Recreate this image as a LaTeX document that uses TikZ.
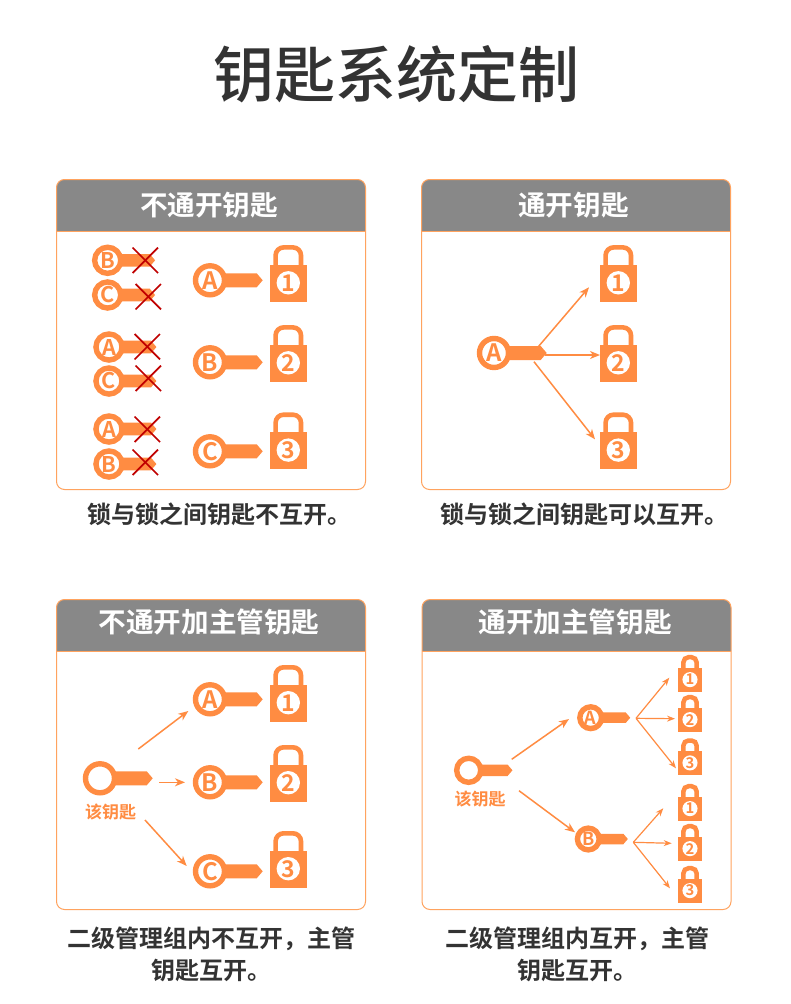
\documentclass[tikz,border=0pt]{standalone}
\usepackage{xcolor}
\usepackage{fontspec}
\setmainfont{Noto Sans CJK SC}[BoldFont={Noto Sans CJK SC Bold}]
\newfontfamily\mediumfont{Noto Sans CJK SC Medium}
\usetikzlibrary{positioning,calc,arrows.meta}
\definecolor{keyorange}{HTML}{FF8C42}
\definecolor{edgeorange}{HTML}{FFA35F}
\definecolor{headgray}{HTML}{888888}
\definecolor{textgray}{HTML}{333333}
\definecolor{crossred}{HTML}{C00000}

\begin{document}
\begin{tikzpicture}[x=1pt, y=-1pt,
    titletext/.style={font=\fontsize{61}{61}\selectfont\mediumfont, text=textgray, inner sep=0pt},
    headtext/.style={font=\fontsize{27.6}{28}\selectfont\bfseries, text=white, inner sep=0pt},
    captext/.style={font=\fontsize{24}{32}\selectfont\bfseries, text=textgray, inner sep=0pt, align=center},
    keytext/.style={font=\fontsize{17}{17}\selectfont\bfseries, text=keyorange, inner sep=0pt},
    ring/.style={circle, draw=keyorange, fill=white, line width=5.4pt, minimum size=29pt, inner sep=0pt, text=keyorange, font=\fontsize{24}{24}\selectfont\bfseries},
    dial/.style={circle, fill=white, minimum size=23.4pt, inner sep=0pt, text=keyorange, font=\fontsize{23}{23}\selectfont\bfseries},
    link/.style={-{Stealth[length=10pt, width=8pt, inset=3pt]}, keyorange, line width=1.5pt},
    thinlink/.style={-{Stealth[length=8pt, width=6pt, inset=2.5pt]}, keyorange, line width=1.2pt},
    cross/.style={crossred, line width=1.7pt},
    keypic/.pic={
        \fill[keyorange] (0,-7) -- (46.7,-7) -- (52.7,0) -- (46.7,7) -- (0,7) -- cycle;
        \node[ring] (-ring) at (0,0) {#1};
    },
    lockpic/.pic={
        \draw[keyorange, line width=4.6pt, rounded corners=8pt] (-12.7,-15) -- (-12.7,-36) -- (12.7,-36) -- (12.7,-15);
        \fill[keyorange] (-18.4,-18.4) rectangle (18.4,18.4);
        \node[dial] (-dial) at (0,-0.6) {#1};
    },
    smalllockpic/.pic={
        \draw[keyorange, line width=4.5pt, rounded corners=5pt] (-10.2,-15) -- (-10.2,-35.3) -- (10.2,-35.3) -- (10.2,-15);
        \fill[keyorange] (-18.4,-18.4) rectangle (18.4,18.4);
        \node[dial] (-dial) at (0,-0.6) {#1};
    },
    nopepic/.pic={
        \coordinate (-a) at (-12.7,-12.7);
        \coordinate (-b) at (12.7,12.7);
        \coordinate (-c) at (12.7,-12.7);
        \coordinate (-d) at (-12.7,12.7);
        \draw[cross] (-a) -- (-b);
        \draw[cross] (-c) -- (-d);
    },
    panelpic/.pic={
        \fill[white] (0,0) rectangle (309,310);
        \path[fill=headgray] (0,52) [rounded corners=8pt] -- (0,0) -- (309,0) [sharp corners] -- (309,52) -- cycle;
        \draw[edgeorange, line width=1pt] (0,52) -- (309,52);
        \draw[edgeorange, line width=1pt, rounded corners=8pt] (0,0) rectangle (309,310);
    }
]
\useasboundingbox (0,0) rectangle (790,1004);
\fill[white] (0,0) rectangle (790,1004);

% Title
\node[titletext] (title) at (396.5,74) {钥匙系统定制};

% Panels
\pic (nokey) at (56.5,179.5) {panelpic};
\pic (allkey) at (421.5,179.5) {panelpic};
\pic (nomaster) at (56.5,599.5) {panelpic};
\pic (allmaster) at (422,599.5) {panelpic};
\node[headtext] (nokeyhead) at (209,205.5) {不通开钥匙};
\node[headtext] (allkeyhead) at (573.5,205.5) {通开钥匙};
\node[headtext] (nomasterhead) at (209,622) {不通开加主管钥匙};
\node[headtext] (allmasterhead) at (575,622) {通开加主管钥匙};

% Captions
\node[captext] (nokeycap) at (219,514) {锁与锁之间钥匙不互开。};
\node[captext] (allkeycap) at (584.5,514) {锁与锁之间钥匙可以互开。};
\node[captext] (nomastercap) at (211,954) {二级管理组内不互开，主管\\钥匙互开。};
\node[captext] (allmastercap) at (577,954) {二级管理组内互开，主管\\钥匙互开。};

% Top left keys and locks
\pic[scale=.9, transform shape] (wrong1) at (107.7,260.3) {keypic=B};
\pic[scale=.9, transform shape] (wrong2) at (107.7,295) {keypic=C};
\pic[scale=.9, transform shape] (wrong3) at (109,347) {keypic=A};
\pic[scale=.9, transform shape] (wrong4) at (109,381) {keypic=C};
\pic[scale=.9, transform shape] (wrong5) at (109,429) {keypic=A};
\pic[scale=.9, transform shape] (wrong6) at (109,464) {keypic=B};
\pic (nope1) at (145.3,260.3) {nopepic};
\pic (nope2) at (148.3,296.7) {nopepic};
\pic (nope3) at (147.3,346.7) {nopepic};
\pic (nope4) at (148.3,378.3) {nopepic};
\pic (nope5) at (147.3,429.3) {nopepic};
\pic (nope6) at (145.3,462.3) {nopepic};
\pic (nokeya) at (210,280.3) {keypic=A};
\pic (nokeyb) at (210,362.3) {keypic=B};
\pic (nokeyc) at (210,451.3) {keypic=C};
\pic (nolock1) at (288.3,283.4) {lockpic=1};
\pic (nolock2) at (288.3,363.4) {lockpic=2};
\pic (nolock3) at (288.3,450.7) {lockpic=3};

% Top right key and locks
\pic (allkeya) at (494,353) {keypic=A};
\pic (alllock1) at (618.3,283.4) {lockpic=1};
\pic (alllock2) at (618.3,363.4) {lockpic=2};
\pic (alllock3) at (618.3,450.7) {lockpic=3};
\coordinate (allstart1) at (538.3,346.7);
\coordinate (allend1) at (589,287.3);
\coordinate (allstart2) at (545,355);
\coordinate (allend2) at (600,355);
\coordinate (allstart3) at (534,361.7);
\coordinate (allend3) at (595,439.3);
\draw[link] (allstart1) -- (allend1);
\draw[link] (allstart2) -- (allend2);
\draw[link] (allstart3) -- (allend3);

% Bottom left keys and locks
\pic (mastera) at (100,778.3) {keypic={}};
\node[keytext] (masteratext) at (110.7,812.3) {该钥匙};
\pic (nomastera) at (210,699.3) {keypic=A};
\pic (nomasterb) at (210,782.3) {keypic=B};
\pic (nomasterc) at (210,871.3) {keypic=C};
\pic (mlock1) at (288.3,703.3) {lockpic=1};
\pic (mlock2) at (288.3,783.3) {lockpic=2};
\pic (mlock3) at (288.3,869.3) {lockpic=3};
\coordinate (mstart1) at (138.3,749);
\coordinate (mend1) at (188.3,711);
\coordinate (mstart2) at (159,782.3);
\coordinate (mend2) at (185,782.3);
\coordinate (mstart3) at (145,820);
\coordinate (mend3) at (186.7,866);
\draw[link] (mstart1) -- (mend1);
\draw[link] (mstart2) -- (mend2);
\draw[link] (mstart3) -- (mend3);

% Bottom right keys and locks
\pic[scale=.83, transform shape] (masterb) at (468.7,770.3) {keypic={}};
\node[keytext] (masterbtext) at (480,799.3) {该钥匙};
\pic[scale=.75, transform shape] (groupa) at (590.7,717.7) {keypic=A};
\pic[scale=.75, transform shape] (groupb) at (588.3,839) {keypic=B};
\pic[scale=.645, transform shape] (glock1) at (690,680) {smalllockpic=1};
\pic[scale=.645, transform shape] (glock2) at (690,720) {smalllockpic=2};
\pic[scale=.645, transform shape] (glock3) at (690,763.3) {smalllockpic=3};
\pic[scale=.645, transform shape] (glock4) at (690,809) {smalllockpic=1};
\pic[scale=.645, transform shape] (glock5) at (690,849) {smalllockpic=2};
\pic[scale=.645, transform shape] (glock6) at (690,891) {smalllockpic=3};
\coordinate (gstart1) at (511.7,759.3);
\coordinate (gend1) at (569,719);
\coordinate (gstart2) at (519,790.7);
\coordinate (gend2) at (575,832.3);
\coordinate (fana) at (636,718.3);
\coordinate (fanaend1) at (669.3,677.7);
\coordinate (fanaend2) at (675,718.7);
\coordinate (fanaend3) at (676,768.3);
\coordinate (fanb) at (633.3,842.3);
\coordinate (fanbend1) at (663.3,808.3);
\coordinate (fanbend2) at (671.7,843.3);
\coordinate (fanbend3) at (670,888.3);
\draw[link] (gstart1) -- (gend1);
\draw[link] (gstart2) -- (gend2);
\draw[thinlink] (fana) -- (fanaend1);
\draw[thinlink] (fana) -- (fanaend2);
\draw[thinlink] (fana) -- (fanaend3);
\draw[thinlink] (fanb) -- (fanbend1);
\draw[thinlink] (fanb) -- (fanbend2);
\draw[thinlink] (fanb) -- (fanbend3);

\end{tikzpicture}
\end{document}
